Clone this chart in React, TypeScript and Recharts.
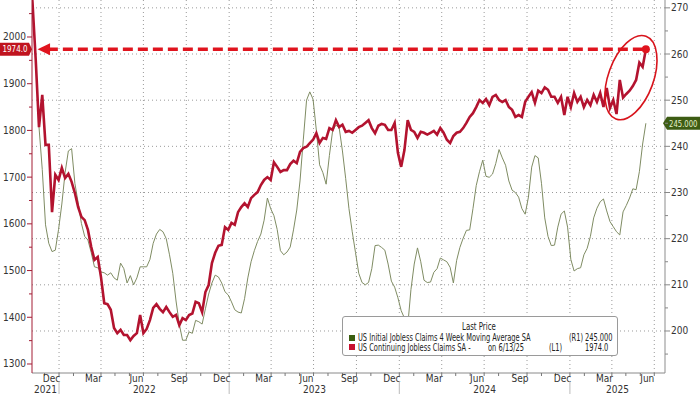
import {
  Legend,
  Line,
  LineChart,
  ReferenceDot,
  ReferenceLine,
  XAxis,
  YAxis,
} from "recharts";

const FONT = '"Liberation Sans Narrow", "DejaVu Sans Condensed", "Arial Narrow", sans-serif';
const RED = "#b3132f";
const GREEN = "#7f8c63";
const ANNOT = "#e0141e";

// weekly observations, first one is 2021-10-29 (day -64 counted from 2022-01-01)
const START_DAY = -64;
const LAST_DAY = 1259; // 6/13/25

const CONTINUING_CLAIMS = [
  2170, 2075, 1951, 1807, 1876, 1769, 1769, 1625, 1705, 1694,
  1720, 1698, 1707, 1690, 1666, 1636, 1615, 1608, 1587, 1551,
  1523, 1529, 1486, 1430, 1428, 1416, 1377, 1366, 1373, 1362,
  1362, 1351, 1360, 1366, 1405, 1366, 1375, 1394, 1420, 1428,
  1418, 1411, 1422, 1411, 1401, 1405, 1383, 1398, 1394, 1405,
  1408, 1433, 1430, 1411, 1454, 1469, 1516, 1538, 1553, 1555,
  1593, 1587, 1602, 1598, 1625, 1636, 1644, 1636, 1655, 1662,
  1668, 1683, 1694, 1700, 1694, 1732, 1722, 1711, 1715, 1715,
  1728, 1735, 1730, 1754, 1762, 1765, 1773, 1780, 1794, 1773,
  1784, 1782, 1805, 1801, 1822, 1807, 1812, 1797, 1799, 1795,
  1801, 1807, 1810, 1816, 1822, 1805, 1794, 1810, 1814, 1812,
  1801, 1801, 1816, 1752, 1722, 1758, 1822, 1801, 1797, 1784,
  1797, 1795, 1791, 1795, 1799, 1791, 1805, 1795, 1780, 1773,
  1788, 1795, 1797, 1805, 1816, 1829, 1837, 1850, 1865, 1859,
  1867, 1854, 1872, 1876, 1865, 1861, 1865, 1850, 1844, 1829,
  1833, 1829, 1861, 1872, 1882, 1859, 1885, 1880, 1892, 1887,
  1872, 1872, 1859, 1872, 1833, 1872, 1850, 1880, 1861, 1872,
  1850, 1865, 1854, 1876, 1861, 1880, 1850, 1891, 1848, 1865,
  1835, 1908, 1870, 1878, 1885, 1895, 1908, 1945, 1936, 1974,
];

const INITIAL_CLAIMS_4WMA = [
  null, null, null, 244.2, 235, 223, 219, 217.2, 217.5, 222,
  227.5, 234.3, 239, 239.5, 232, 227.8, 223.3, 220.5, 219.7, 217,
  213.9, 213.7, 212.8, 212.6, 212.1, 212.6, 211.5, 211, 214.7, 213.5,
  210.4, 212, 210, 211.5, 213.9, 213.9, 213.9, 215.5, 219, 221,
  222, 221.5, 220, 216.5, 212.5, 206.5, 201.5, 198, 198, 199.8,
  199.5, 202.3, 202, 201.5, 204.8, 208, 210.4, 212.1, 211.7, 210.4,
  208.5, 207.8, 206.3, 204.6, 204.1, 203.9, 207, 211.5, 215, 217.4,
  219.4, 221, 224, 228.8, 226.5, 225, 222, 217.4, 216.5, 217.1,
  218.2, 221.9, 226.2, 232.5, 241.4, 250, 251.8, 250.2, 243.5, 236,
  234.3, 231.8, 238, 243.4, 244.6, 244, 239, 233, 226.5, 221.5,
  217, 212.5, 210.5, 210, 210.5, 213.5, 218.5, 218.6, 218.1, 217.5,
  214.5, 210.8, 209.5, 207.2, 204.4, 202.8, 201, 209, 214.5, 218,
  215, 211, 210.5, 210.6, 212.7, 213.5, 215.8, 215.4, 215, 213.8,
  210.4, 215.3, 218.1, 220.1, 221.8, 221.9, 226.5, 231.5, 234.5, 237,
  233.5, 233.3, 234, 236.3, 239.3, 237.5, 235.9, 232.5, 230.5, 230,
  229, 226.5, 225.3, 229, 235.5, 238, 237.5, 232, 224.5, 220.5,
  218.5, 218.6, 222.5, 225.3, 226, 222.5, 215.5, 213, 213.5, 213.7,
  216.5, 217.9, 220.5, 224.5, 226.6, 228, 228.6, 226, 223.7, 222.6,
  221.5, 220.8, 225.8, 227.2, 228.8, 230.8, 230.6, 234.5, 240.5, 245,
];

const LEFT_TICKS = [1300, 1350, 1400, 1450, 1500, 1550, 1600, 1650, 1700, 1750, 1800, 1850, 1900, 1950, 2000, 2050];
const RIGHT_TICKS = [195, 200, 205, 210, 215, 220, 225, 230, 235, 240, 245, 250, 255, 260, 265, 270];
const RIGHT_GRID = [200, 210, 220, 230, 240, 250, 260, 270];
const MONTH_LABELS: Record<number, string> = { 2: "Mar", 5: "Jun", 8: "Sep", 11: "Dec" };
const YEARS = [2021, 2022, 2023, 2024, 2025];

const LAST_CONT = 1974;
const LAST_INIT = 245;

const LEGEND_ROWS = [
  { name: "US Initial Jobless Claims 4 Week Moving Average SA", date: "", tag: "(R1)", value: "245.000", color: "#3b5e10" },
  { name: "US Continuing Jobless Claims SA -", date: "on 6/13/25", tag: "(L1)", value: "1974.0", color: "#c8102e" },
];

const X_MIN = -58;
const X_MAX = 1300;
const LEFT_DOMAIN: [number, number] = [1280.7, 2079.2];
const RIGHT_DOMAIN: [number, number] = [190.9, 271.7];

const dayOf = (y: number, m: number, d = 1) =>
  Math.round((Date.UTC(y, m, d) - Date.UTC(2022, 0, 1)) / 86400000);

type TickItem = { kind: "month" | "label" | "year" | "sep"; text?: string };
const tickMap = new Map<number, TickItem[]>();
const addTick = (v: number, item: TickItem) => {
  if (v < X_MIN || v > X_MAX) return;
  const list = tickMap.get(v) ?? [];
  list.push(item);
  tickMap.set(v, list);
};
const quarterLines: number[] = [];
for (const y of YEARS) {
  for (let m = 0; m < 12; m++) {
    const s = dayOf(y, m);
    addTick(s, { kind: "month" });
    if (m % 3 === 0 && s > X_MIN && s < X_MAX) quarterLines.push(s);
    if (MONTH_LABELS[m]) addTick(dayOf(y, m, 16), { kind: "label", text: MONTH_LABELS[m] });
  }
  const a = Math.max(X_MIN, dayOf(y, 0));
  const b = Math.min(X_MAX, dayOf(y + 1, 0));
  addTick(Math.round((a + b) / 2), { kind: "year", text: String(y) });
  if (dayOf(y, 0) > X_MIN) addTick(dayOf(y, 0), { kind: "sep" });
}
const X_TICKS = [...tickMap.keys()].sort((p, q) => p - q);

const rows = CONTINUING_CLAIMS.map((v, i) => ({
  day: START_DAY + 7 * i,
  continuing: v,
  initial: INITIAL_CLAIMS_4WMA[i],
}));

function XTick({ x, y, payload }: any) {
  const items = tickMap.get(payload.value) ?? [];
  return (
    <g>
      {items.map((it, i) => {
        if (it.kind === "month")
          return <line key={i} x1={x} x2={x} y1={y} y2={y + 3} stroke="#777" />;
        if (it.kind === "sep")
          return <line key={i} x1={x} x2={x} y1={y + 8} y2={y + 21} stroke="#bbb" />;
        return (
          <text key={i} x={x} y={it.kind === "label" ? y + 9 : y + 19.5} textAnchor="middle"
            fontFamily={FONT} fontSize={10} fill="#333">
            {it.text}
          </text>
        );
      })}
    </g>
  );
}

function LeftTick({ x, y, payload }: any) {
  const major = payload.value % 100 === 0;
  return (
    <g>
      <line x1={x - (major ? 5 : 3)} x2={x} y1={y} y2={y} stroke="#a31d35" />
      {major && (
        <text x={x - 6} y={y + 3.5} textAnchor="end" fontFamily={FONT} fontSize={10} fill="#333">
          {payload.value}
        </text>
      )}
    </g>
  );
}

function RightTick({ x, y, payload }: any) {
  const major = payload.value % 10 === 0;
  return (
    <g>
      <line x1={x} x2={x + (major ? 5 : 3)} y1={y} y2={y} stroke="#888" />
      {major && (
        <text x={x + 6} y={y + 3.5} textAnchor="start" fontFamily={FONT} fontSize={10} fill="#333">
          {payload.value}
        </text>
      )}
    </g>
  );
}

function Txt({ left, children, size = 10 }: { left: number; children: any; size?: number }) {
  return (
    <span
      style={{
        position: "absolute",
        left,
        top: 0,
        whiteSpace: "nowrap",
        fontSize: size,
        transform: "scaleX(0.74)",
        transformOrigin: "0 0",
      }}
    >
      {children}
    </span>
  );
}

function LegendBox() {
  return (
    <div
      style={{
        position: "relative",
        width: 276,
        height: 40,
        boxSizing: "border-box",
        border: "1px solid #9a9a9a",
        borderRadius: 3,
        background: "#fff",
        fontFamily: FONT,
        color: "#222",
        lineHeight: "11px",
      }}
    >
      <div style={{ position: "absolute", top: 4, left: 0, width: "100%", height: 11 }}>
        <Txt left={119} size={10.5}>Last Price</Txt>
      </div>
      {LEGEND_ROWS.map((r, i) => (
        <div key={r.name} style={{ position: "absolute", top: 15 + i * 9.5, left: 0, width: "100%", height: 11 }}>
          <span style={{ position: "absolute", left: 6, top: 2.5, width: 6, height: 6, background: r.color }} />
          <Txt left={15}>{r.name}</Txt>
          {r.date && <Txt left={145}>{r.date}</Txt>}
          <Txt left={i === 0 ? 226 : 206}>{r.tag}</Txt>
          <Txt left={242}>{r.value}</Txt>
        </div>
      ))}
    </div>
  );
}

export default function App() {
  return (
    <div style={{ position: "fixed", left: 0, top: 0, width: 700, height: 394, background: "#fff" }}>
      <LineChart width={700} height={394} data={rows} margin={{ top: 0, right: 0, bottom: 0, left: 0 }}>
        <XAxis
          dataKey="day"
          type="number"
          domain={[X_MIN, X_MAX]}
          allowDataOverflow
          ticks={X_TICKS}
          interval={0}
          tick={<XTick />}
          tickLine={false}
          tickSize={0}
          tickMargin={0}
          height={21}
          axisLine={{ stroke: "#8a8a8a" }}
        />
        <YAxis
          yAxisId="left"
          orientation="left"
          domain={LEFT_DOMAIN}
          allowDataOverflow
          ticks={LEFT_TICKS}
          interval={0}
          tick={<LeftTick />}
          tickLine={false}
          tickSize={0}
          tickMargin={0}
          width={32}
          axisLine={{ stroke: "#a31d35" }}
        />
        <YAxis
          yAxisId="right"
          orientation="right"
          domain={RIGHT_DOMAIN}
          allowDataOverflow
          ticks={RIGHT_TICKS}
          interval={0}
          tick={<RightTick />}
          tickLine={false}
          tickSize={0}
          tickMargin={0}
          width={35}
          axisLine={{ stroke: "#8d8d8d" }}
        />
        {RIGHT_GRID.map((v) => (
          <ReferenceLine key={`h${v}`} yAxisId="right" y={v} stroke="#9a9a9a" strokeDasharray="1 3" />
        ))}
        {quarterLines.map((d) => (
          <ReferenceLine key={`v${d}`} yAxisId="right" x={d} stroke="#9a9a9a" strokeDasharray="1 3" />
        ))}
        <Line
          yAxisId="right"
          dataKey="initial"
          stroke={GREEN}
          strokeWidth={1}
          dot={false}
          isAnimationActive={false}
        />
        <Line
          yAxisId="left"
          dataKey="continuing"
          stroke={RED}
          strokeWidth={2.6}
          dot={false}
          isAnimationActive={false}
        />
        <ReferenceLine
          yAxisId="left"
          segment={[{ x: -24, y: LAST_CONT }, { x: LAST_DAY, y: LAST_CONT }]}
          stroke={ANNOT}
          strokeWidth={3.5}
          strokeDasharray="10 5"
          ifOverflow="visible"
        />
        <ReferenceDot
          yAxisId="left"
          x={-46}
          y={LAST_CONT}
          ifOverflow="visible"
          shape={(p: any) => (
            <polygon points={`${p.cx},${p.cy} ${p.cx + 12.5},${p.cy - 6} ${p.cx + 12.5},${p.cy + 6}`} fill={ANNOT} />
          )}
        />
        <ReferenceDot yAxisId="left" x={LAST_DAY} y={LAST_CONT} r={4} fill={ANNOT} stroke="none" ifOverflow="visible" />
        <ReferenceDot
          yAxisId="left"
          x={1227}
          y={1913}
          ifOverflow="visible"
          shape={(p: any) => (
            <ellipse cx={p.cx} cy={p.cy} rx={22.6} ry={44} fill="none" stroke="#d8141c" strokeWidth={1.6}
              transform={`rotate(20 ${p.cx} ${p.cy})`} />
          )}
        />
        <ReferenceDot
          yAxisId="left"
          x={X_MIN}
          y={LAST_CONT}
          ifOverflow="visible"
          shape={(p: any) => (
            <g>
              <polygon
                points={`${p.cx - 32},${p.cy - 6.5} ${p.cx - 3},${p.cy - 6.5} ${p.cx},${p.cy} ${p.cx - 3},${p.cy + 6.5} ${p.cx - 32},${p.cy + 6.5}`}
                fill="#c0141f"
              />
              <text x={p.cx - 29.5} y={p.cy + 3.3} textLength={25} lengthAdjust="spacingAndGlyphs"
                fontFamily={FONT} fontSize={9.5} fill="#fff">
                1974.0
              </text>
            </g>
          )}
        />
        <ReferenceDot
          yAxisId="right"
          x={X_MAX}
          y={LAST_INIT}
          ifOverflow="visible"
          shape={(p: any) => (
            <g>
              <polygon
                points={`${p.cx - 2},${p.cy} ${p.cx + 2},${p.cy - 6.5} ${p.cx + 35},${p.cy - 6.5} ${p.cx + 35},${p.cy + 6.5} ${p.cx + 2},${p.cy + 6.5}`}
                fill="#3d5c14"
              />
              <text x={p.cx + 4} y={p.cy + 3.3} textLength={28.5} lengthAdjust="spacingAndGlyphs"
                fontFamily={FONT} fontSize={9.5} fill="#e2efcc">
                245.000
              </text>
            </g>
          )}
        />
        <Legend
          layout="horizontal"
          verticalAlign="middle"
          align="center"
          content={<LegendBox />}
          wrapperStyle={{ left: 342, top: 316, width: 276, height: 40 }}
        />
      </LineChart>
    </div>
  );
}
